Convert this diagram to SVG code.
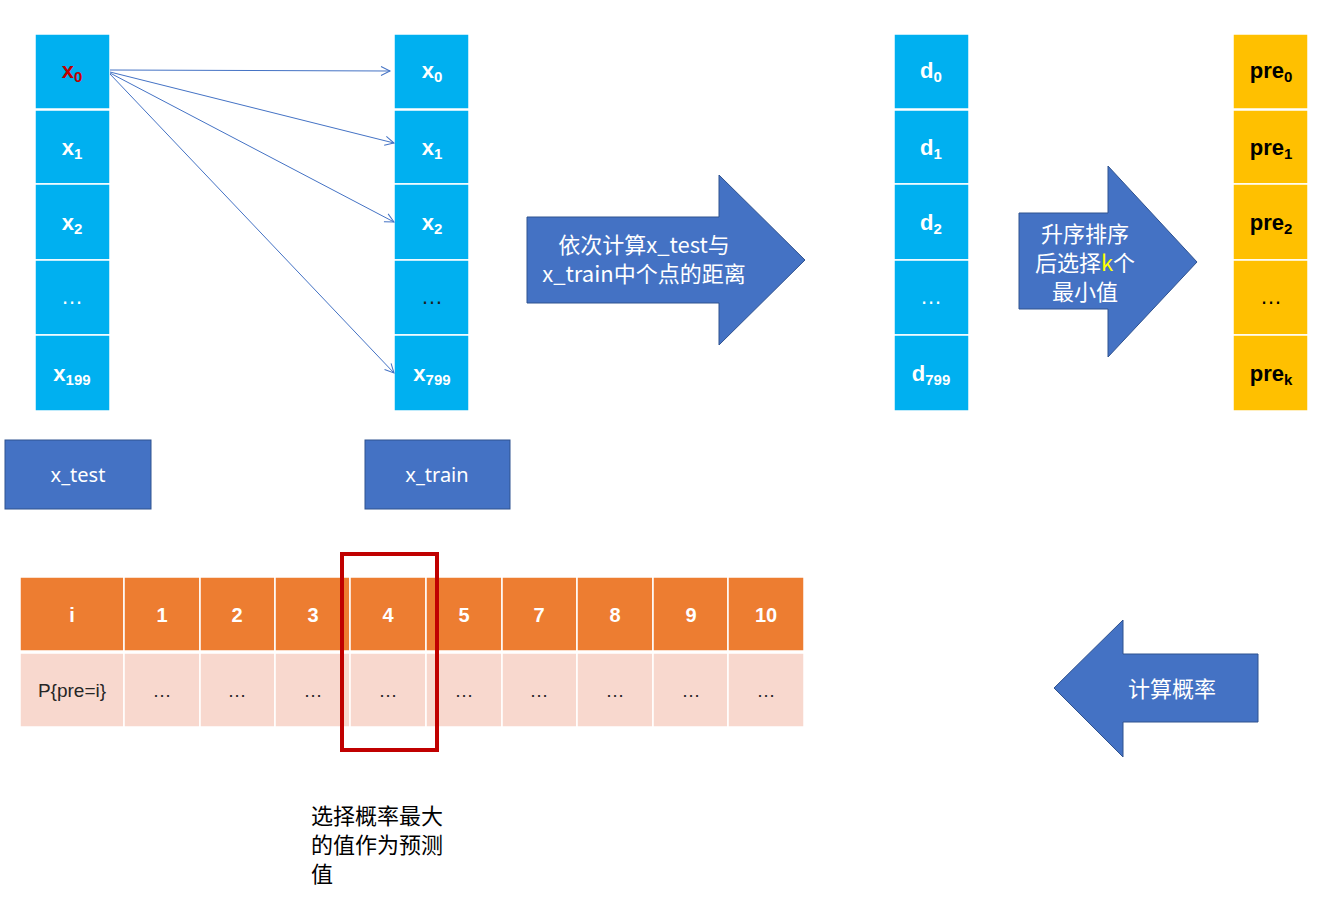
<svg xmlns="http://www.w3.org/2000/svg" width="1342" height="903" viewBox="0 0 1342 903">
<style>
.blue{fill:#00B0F0;stroke:#FFFFFF;stroke-width:1.5}
.gold{fill:#FFC000;stroke:#FFFFFF;stroke-width:1.5}
.cell{font-family:"Liberation Sans",Arial,sans-serif;font-weight:bold;font-size:22px;fill:#FFFFFF;text-anchor:middle}
.dark{fill:#000000}
.sub{font-size:15px}
.shape{fill:#4472C4;stroke:#2F528F;stroke-width:1}
.lbl{font-family:"Noto Sans","Noto Sans CJK SC",sans-serif;font-size:20px;fill:#FFFFFF;text-anchor:middle}
.cjk{font-family:"Noto Sans CJK SC","Noto Sans",sans-serif;font-size:22px;fill:#FFFFFF;text-anchor:middle}
.hd{fill:#ED7D31;stroke:#FFFFFF;stroke-width:1.5}
.bd{fill:#F8D8CE;stroke:#FFFFFF;stroke-width:1.5}
.ht{font-family:"Liberation Sans",Arial,sans-serif;font-weight:bold;font-size:20px;fill:#FFFFFF;text-anchor:middle}
.bt{font-family:"Liberation Sans",Arial,sans-serif;font-size:19px;fill:#262626;text-anchor:middle}
.note{font-family:"Noto Sans CJK SC","Noto Sans",sans-serif;font-size:22px;fill:#000000}
.conn{stroke:#4472C4;stroke-width:1;fill:none}
</style>
<defs>
<marker id="arr" markerUnits="userSpaceOnUse" markerWidth="14" markerHeight="14" refX="12" refY="7" orient="auto">
<path d="M3,2.5 L12,7 L3,11.5" fill="none" stroke="#4472C4" stroke-width="1"/>
</marker>
</defs>

<g id="x_test_col">
<rect class="blue" x="35" y="34" width="75" height="75"/>
<rect class="blue" x="35" y="110" width="75" height="74"/>
<rect class="blue" x="35" y="184" width="75" height="76"/>
<rect class="blue" x="35" y="260" width="75" height="75"/>
<rect class="blue" x="35" y="335" width="75" height="76"/>
<text class="cell" x="72" y="78" style="fill:#C00000">x<tspan class="sub" dy="4">0</tspan></text>
<text class="cell" x="72" y="155">x<tspan class="sub" dy="4">1</tspan></text>
<text class="cell" x="72" y="230">x<tspan class="sub" dy="4">2</tspan></text>
<text class="cell" x="72" y="304" style="font-weight:normal">…</text>
<text class="cell" x="72" y="381">x<tspan class="sub" dy="4">199</tspan></text>
</g>

<g id="x_train_col">
<rect class="blue" x="394" y="34" width="75" height="75"/>
<rect class="blue" x="394" y="110" width="75" height="74"/>
<rect class="blue" x="394" y="184" width="75" height="76"/>
<rect class="blue" x="394" y="260" width="75" height="75"/>
<rect class="blue" x="394" y="335" width="75" height="76"/>
<text class="cell" x="432" y="78">x<tspan class="sub" dy="4">0</tspan></text>
<text class="cell" x="432" y="155">x<tspan class="sub" dy="4">1</tspan></text>
<text class="cell" x="432" y="230">x<tspan class="sub" dy="4">2</tspan></text>
<text class="cell" x="432" y="304" style="font-weight:normal;fill:#1F1F1F">…</text>
<text class="cell" x="432" y="381">x<tspan class="sub" dy="4">799</tspan></text>
</g>

<g id="d_col">
<rect class="blue" x="894" y="34" width="75" height="75"/>
<rect class="blue" x="894" y="110" width="75" height="74"/>
<rect class="blue" x="894" y="184" width="75" height="76"/>
<rect class="blue" x="894" y="260" width="75" height="75"/>
<rect class="blue" x="894" y="335" width="75" height="76"/>
<text class="cell" x="931" y="78">d<tspan class="sub" dy="4">0</tspan></text>
<text class="cell" x="931" y="155">d<tspan class="sub" dy="4">1</tspan></text>
<text class="cell" x="931" y="230">d<tspan class="sub" dy="4">2</tspan></text>
<text class="cell" x="931" y="304" style="font-weight:normal">…</text>
<text class="cell" x="931" y="381">d<tspan class="sub" dy="4">799</tspan></text>
</g>

<g id="pre_col">
<rect class="gold" x="1233" y="34" width="75" height="75"/>
<rect class="gold" x="1233" y="110" width="75" height="74"/>
<rect class="gold" x="1233" y="184" width="75" height="76"/>
<rect class="gold" x="1233" y="260" width="75" height="75"/>
<rect class="gold" x="1233" y="335" width="75" height="76"/>
<text class="cell dark" x="1271" y="78">pre<tspan class="sub" dy="4">0</tspan></text>
<text class="cell dark" x="1271" y="155">pre<tspan class="sub" dy="4">1</tspan></text>
<text class="cell dark" x="1271" y="230">pre<tspan class="sub" dy="4">2</tspan></text>
<text class="cell dark" x="1271" y="304" style="font-weight:normal">…</text>
<text class="cell dark" x="1271" y="381">pre<tspan class="sub" dy="4">k</tspan></text>
</g>

<g id="connectors">
<line class="conn" x1="110" y1="70" x2="390" y2="71" marker-end="url(#arr)"/>
<line class="conn" x1="110" y1="72" x2="394" y2="143" marker-end="url(#arr)"/>
<line class="conn" x1="110" y1="73" x2="394" y2="222" marker-end="url(#arr)"/>
<line class="conn" x1="110" y1="74" x2="394" y2="373" marker-end="url(#arr)"/>
</g>

<g id="label_x_test">
<rect class="shape" x="5" y="440" width="146" height="69"/>
<text class="lbl" x="78" y="482">x_test</text>
</g>
<g id="label_x_train">
<rect class="shape" x="365" y="440" width="145" height="69"/>
<text class="lbl" x="437" y="482">x_train</text>
</g>

<g id="arrow_distance">
<path class="shape" d="M527,217 L719,217 L719,175 L805,260 L719,345 L719,303 L527,303 Z"/>
<text class="cjk" x="644" y="253">依次计算x_test与</text>
<text class="cjk" x="644" y="282">x_train中个点的距离</text>
</g>

<g id="arrow_sort">
<path class="shape" d="M1019,213 L1108,213 L1108,166 L1197,262 L1108,357 L1108,309 L1019,309 Z"/>
<text class="cjk" x="1085" y="242">升序排序</text>
<text class="cjk" x="1085" y="271">后选择<tspan style="fill:#FFFF00">k</tspan>个</text>
<text class="cjk" x="1085" y="300">最小值</text>
</g>

<g id="arrow_prob">
<path class="shape" d="M1258,654 L1123,654 L1123,620 L1054,688 L1123,757 L1123,722 L1258,722 Z"/>
<text class="cjk" x="1172" y="697">计算概率</text>
</g>

<g id="table">
<rect class="hd" x="20" y="577" width="104" height="74"/>
<rect class="hd" x="124" y="577" width="76" height="74"/>
<rect class="hd" x="200" y="577" width="75" height="74"/>
<rect class="hd" x="275" y="577" width="75" height="74"/>
<rect class="hd" x="350" y="577" width="76" height="74"/>
<rect class="hd" x="426" y="577" width="76" height="74"/>
<rect class="hd" x="502" y="577" width="75" height="74"/>
<rect class="hd" x="577" y="577" width="76" height="74"/>
<rect class="hd" x="653" y="577" width="75" height="74"/>
<rect class="hd" x="728" y="577" width="76" height="74"/>
<rect class="bd" x="20" y="653" width="104" height="74"/>
<rect class="bd" x="124" y="653" width="76" height="74"/>
<rect class="bd" x="200" y="653" width="75" height="74"/>
<rect class="bd" x="275" y="653" width="75" height="74"/>
<rect class="bd" x="350" y="653" width="76" height="74"/>
<rect class="bd" x="426" y="653" width="76" height="74"/>
<rect class="bd" x="502" y="653" width="75" height="74"/>
<rect class="bd" x="577" y="653" width="76" height="74"/>
<rect class="bd" x="653" y="653" width="75" height="74"/>
<rect class="bd" x="728" y="653" width="76" height="74"/>
<text class="ht" x="72" y="622">i</text>
<text class="ht" x="162" y="622">1</text>
<text class="ht" x="237" y="622">2</text>
<text class="ht" x="313" y="622">3</text>
<text class="ht" x="388" y="622">4</text>
<text class="ht" x="464" y="622">5</text>
<text class="ht" x="539" y="622">7</text>
<text class="ht" x="615" y="622">8</text>
<text class="ht" x="691" y="622">9</text>
<text class="ht" x="766" y="622">10</text>
<text class="bt" x="72" y="697">P{pre=i}</text>
<text class="bt" x="162" y="697">…</text>
<text class="bt" x="237" y="697">…</text>
<text class="bt" x="313" y="697">…</text>
<text class="bt" x="388" y="697">…</text>
<text class="bt" x="464" y="697">…</text>
<text class="bt" x="539" y="697">…</text>
<text class="bt" x="615" y="697">…</text>
<text class="bt" x="691" y="697">…</text>
<text class="bt" x="766" y="697">…</text>
</g>

<g id="highlight">
<rect x="342" y="554" width="95" height="196" fill="none" stroke="#C00000" stroke-width="4"/>
</g>

<g id="note">
<text class="note" x="311" y="824">选择概率最大</text>
<text class="note" x="311" y="853">的值作为预测</text>
<text class="note" x="311" y="882">值</text>
</g>
</svg>
